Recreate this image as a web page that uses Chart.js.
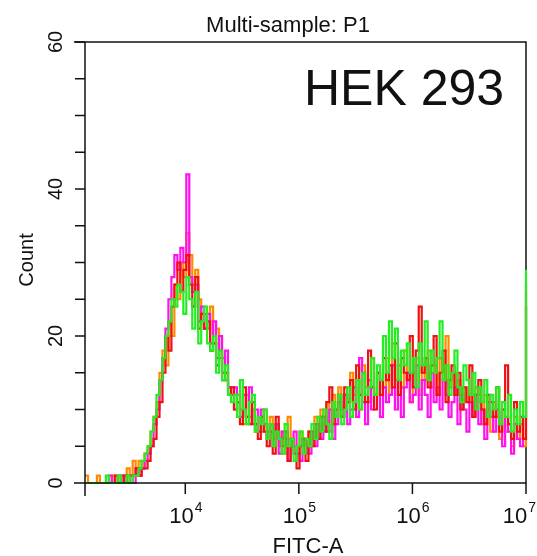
<!DOCTYPE html>
<html>
<head>
<meta charset="utf-8">
<script src="https://cdn.jsdelivr.net/npm/chart.js@4.4.0/dist/chart.umd.min.js"></script>
<style>
body{margin:0;background:#fff;}
canvas{display:block;}
</style>
</head>
<body>
<canvas id="graphique" width="537" height="556"></canvas>
<script>
//textes du graphique
var titre = "Multi-sample: P1";
var etiquette = "HEK 293";
var titreX = "FITC-A";
var titreY = "Count";

//axe x (log), de 10^3.117 a 10^7, 148 canaux + le dernier canal (debordement)
var expMin = 3.117;
var expMax = 7;
var nombreCanaux = 148;
var decades = [1e4, 1e5, 1e6, 1e7];
var exposants = ["4", "5", "6", "7"];
var ticksY = [0, 20, 40, 60];

//les comptes, un par canal (par 10), le dernier = debordement
var magenta = [0,0,0,0,0,0,0,0,1,0,
	0,0,1,0,1,1,0,2,1,2,
	3,4,5,8,10,14,17,21,25,28,
	31,29,32,30,42,28,26,27,22,24,
	21,23,19,22,17,20,15,18,13,12,
	13,11,9,12,9,13,8,10,7,10,
	8,6,7,5,8,4,7,6,3,5,
	7,4,3,6,5,4,7,5,8,6,
	9,7,10,6,8,11,9,12,8,10,
	13,9,17,11,8,14,10,12,15,9,
	13,11,12,16,10,14,9,13,15,11,
	12,16,10,14,12,9,15,11,13,10,
	14,12,9,11,13,8,12,10,7,11,
	9,12,8,10,6,11,9,7,10,8,
	5,9,7,4,8,6,5,9,
	27];

var rouge = [0,0,0,0,0,0,0,0,0,0,
	1,0,0,1,0,1,1,2,1,2,
	2,3,5,6,9,11,15,20,18,24,
	27,30,26,29,31,27,24,28,21,23,
	21,22,18,19,16,18,14,15,12,13,
	10,11,8,13,9,8,11,8,6,9,
	7,5,8,4,9,6,5,7,3,6,
	4,2,5,6,3,7,5,8,6,9,
	7,11,13,8,10,12,9,13,11,14,
	10,16,12,15,11,18,13,10,15,12,
	17,14,16,13,19,12,17,15,14,20,
	13,18,24,15,17,13,16,20,12,15,
	18,11,14,16,12,15,10,13,11,16,
	9,12,14,10,8,12,11,9,13,7,
	10,16,8,6,11,7,9,6,
	24];

var vert = [0,0,0,0,0,0,0,1,0,0,
	0,1,0,0,1,0,1,1,2,3,
	4,5,7,9,12,14,17,20,22,25,
	24,27,26,23,28,25,21,26,19,22,
	24,19,18,20,15,18,14,16,12,11,
	12,9,14,10,8,11,12,7,9,8,
	10,6,8,5,7,6,4,8,5,6,
	3,5,7,4,6,5,8,6,9,7,
	10,8,6,11,9,12,8,10,13,9,
	11,14,10,15,12,13,17,12,16,14,
	20,15,22,17,21,14,18,16,19,15,
	17,13,19,16,22,14,18,15,17,22,
	14,16,12,15,18,13,11,16,14,12,
	15,10,13,11,14,9,12,10,13,8,
	11,9,12,7,10,8,11,9,
	29];

var orange = [1,0,0,0,1,0,0,0,0,1,
	0,1,0,1,2,1,3,2,3,2,
	4,5,7,9,11,15,18,16,22,20,
	27,25,30,28,34,31,27,29,25,23,
	23,21,24,19,21,17,17,14,13,12,
	10,12,10,8,12,9,10,7,9,7,
	10,7,9,6,8,5,7,4,9,6,
	5,4,7,6,4,7,6,9,7,10,
	8,11,7,12,9,13,10,12,11,15,
	12,14,10,16,13,11,17,12,15,14,
	13,17,12,19,14,16,13,18,15,11,
	15,17,12,16,14,18,13,16,12,17,
	14,20,13,15,12,14,10,13,11,12,
	9,13,11,8,12,10,7,11,9,6,
	10,7,8,5,9,6,8,5,
	26];

var series = [
	{nom: "vert", valeurs: vert, couleur: "#22ee22"},
	{nom: "rouge", valeurs: rouge, couleur: "#ee1111"},
	{nom: "magenta", valeurs: magenta, couleur: "#ff11ee"},
	{nom: "orange", valeurs: orange, couleur: "#ff8a00"}
];

//bord gauche de chaque canal sur l'echelle log
function bordsCanaux(){
	var tab = [];
	for(let i = 0 ; i <= nombreCanaux ; i++){
		tab.push(Math.pow(10, expMin + i * (expMax - expMin) / nombreCanaux));
	}
	return tab;
}
var bords = bordsCanaux();

var datasets = series.map(function(s){
	return {
		label: s.nom,
		data: s.valeurs.map(function(v, i){ return {x: bords[i], y: v}; }),
		borderColor: s.couleur,
		borderWidth: 2.2,
		pointRadius: 0,
		stepped: "before",
		fill: false,
		clip: 3
	};
});

//les graduations de l'axe x : 2..9 x 10^n et les decades
function ticksX(){
	var tab = [];
	for(let e = 3 ; e < 7 ; e++){
		for(let m = 1 ; m < 10 ; m++){
			var v = m * Math.pow(10, e);
			if(v >= bords[0] && v <= 1e7) tab.push({value: v, major: m == 1});
		}
	}
	tab.push({value: 1e7, major: true});
	return tab;
}

var police = "'Liberation Sans', Arial, sans-serif";

//dessin du cadre, des graduations et des textes
var cadre = {
	id: "cadre",
	beforeDatasetsDraw: function(chart){
		var ctx = chart.ctx;
		var a = chart.chartArea;
		ctx.save();
		ctx.strokeStyle = "#111";
		ctx.lineWidth = 1.5;
		ctx.beginPath();
		ctx.moveTo(a.left - 11, a.top);
		ctx.lineTo(a.right, a.top);
		ctx.lineTo(a.right, a.bottom);
		ctx.stroke();
		ctx.restore();
	},
	afterDatasetsDraw: function(chart){
		var ctx = chart.ctx;
		var a = chart.chartArea;
		var sx = chart.scales.x;
		var sy = chart.scales.y;
		ctx.save();
		ctx.strokeStyle = "#111";
		ctx.lineWidth = 1.5;
		ctx.beginPath();
		//axe y
		ctx.moveTo(a.left, a.top);
		ctx.lineTo(a.left, a.bottom + 13);
		//axe x
		ctx.moveTo(a.left - 11, a.bottom);
		ctx.lineTo(a.right, a.bottom);
		sy.ticks.forEach(function(t){
			var y = sy.getPixelForValue(t.value);
			ctx.moveTo(a.left - 10, y);
			ctx.lineTo(a.left, y);
		});
		sx.ticks.forEach(function(t){
			var x = sx.getPixelForValue(t.value);
			ctx.moveTo(x, a.bottom);
			ctx.lineTo(x, a.bottom + (t.major ? 11 : 8));
		});
		ctx.stroke();

		ctx.fillStyle = "#111";
		//titre
		ctx.font = "22px " + police;
		ctx.textAlign = "center";
		ctx.textBaseline = "alphabetic";
		ctx.fillText(titre, 288, 32);
		//etiquette
		ctx.font = "50px " + police;
		ctx.fillText(etiquette, 404, 105);
		//graduations x : 10 puis l'exposant plus petit et plus haut
		decades.forEach(function(d, i){
			var x = sx.getPixelForValue(d);
			ctx.font = "22px " + police;
			var l1 = ctx.measureText("10").width;
			ctx.font = "14px " + police;
			var l2 = ctx.measureText(exposants[i]).width;
			var gauche = x - (l1 + l2) / 2;
			if(gauche + l1 + l2 + 1 > 536) gauche = 536 - l1 - l2 - 1;
			ctx.textAlign = "left";
			ctx.font = "22px " + police;
			ctx.fillText("10", gauche, 523);
			ctx.font = "14px " + police;
			ctx.fillText(exposants[i], gauche + l1 + 1, 512);
		});
		//titre x
		ctx.textAlign = "center";
		ctx.font = "22px " + police;
		ctx.fillText(titreX, 308, 553);
		//graduations y (tournees)
		ctx.font = "20px " + police;
		ticksY.forEach(function(v){
			var y = sy.getPixelForValue(v);
			ctx.save();
			ctx.translate(62, y);
			ctx.rotate(-Math.PI / 2);
			ctx.fillText(String(v), 0, 0);
			ctx.restore();
		});
		//titre y
		ctx.save();
		ctx.translate(33, 260);
		ctx.rotate(-Math.PI / 2);
		ctx.fillText(titreY, 0, 0);
		ctx.restore();
		ctx.restore();
	}
};

var ctx = document.getElementById("graphique").getContext("2d");
var graph = new Chart(ctx, {
	type: "line",
	data: {datasets: datasets},
	options: {
		responsive: false,
		animation: false,
		layout: {padding: {left: 85, right: 11, top: 42, bottom: 73}},
		plugins: {legend: {display: false}, tooltip: {enabled: false}},
		scales: {
			x: {
				type: "logarithmic",
				min: bords[0],
				max: 1e7,
				display: false,
				afterBuildTicks: function(scale){ scale.ticks = ticksX(); }
			},
			y: {
				type: "linear",
				min: 0,
				max: 60,
				display: false,
				ticks: {stepSize: 5}
			}
		}
	},
	plugins: [cadre]
});
</script>
</body>
</html>
